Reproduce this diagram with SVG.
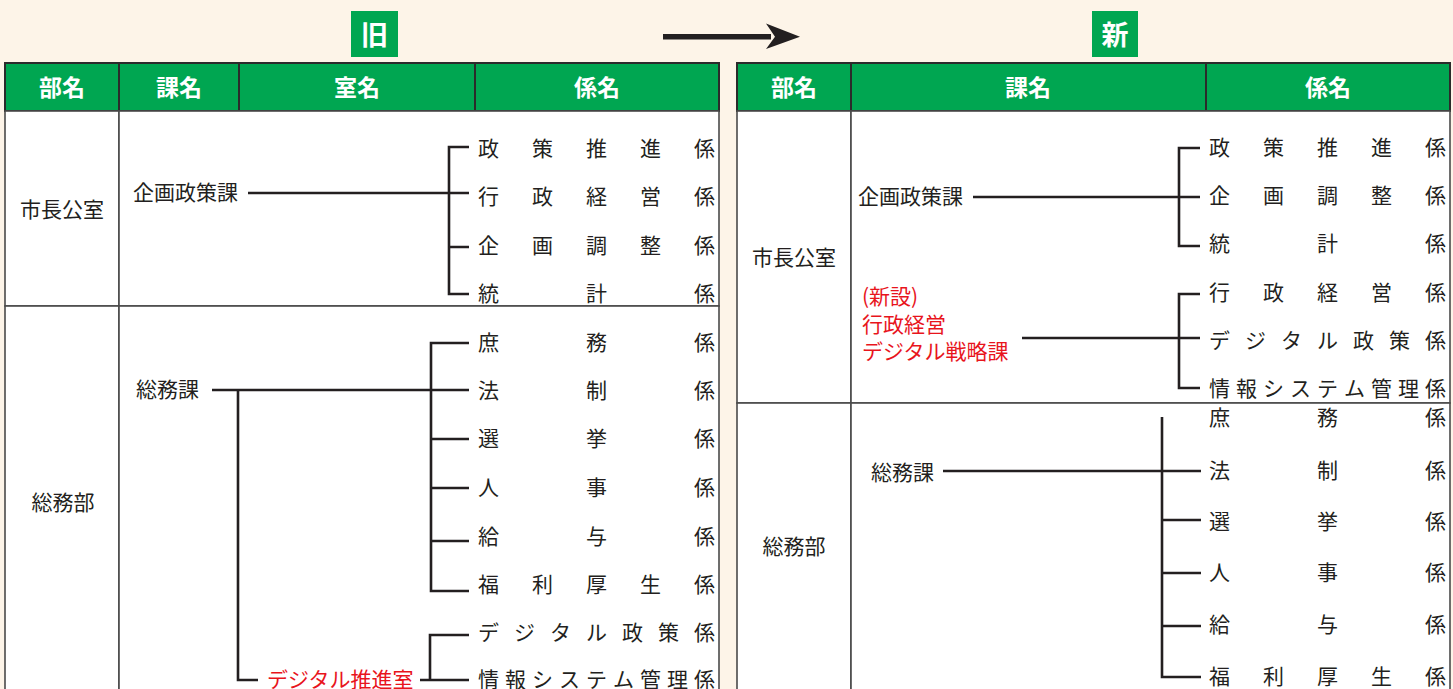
<svg xmlns="http://www.w3.org/2000/svg" width="1453" height="689" viewBox="0 0 1453 689">
<style>
.bg{fill:#fdf4e8}
.hd{fill:#00a651;stroke:#2b2b2b;stroke-width:2}
.cell{fill:#ffffff;stroke:#4a4a4a;stroke-width:1.6}
text{font-family:"Noto Sans CJK JP","Noto Sans CJK SC",sans-serif;dominant-baseline:central}
.h{fill:#ffffff;font-size:23px;font-weight:700;text-anchor:middle}
.tag{fill:#ffffff;font-size:27px;font-weight:700;text-anchor:middle}
.t{fill:#231f20;font-size:21px}
.m{text-anchor:middle}
.red{fill:#e8141c;font-size:21px}
.ln{stroke:#231f20;stroke-width:2.6;fill:none}
</style>
<rect class="bg" x="0" y="0" width="1453" height="689"/>

<g id="title-old">
<rect x="351" y="11" width="47" height="46" fill="#00a651"/>
<text class="tag" x="374.5" y="33">旧</text>
</g>
<g id="title-new">
<rect x="1092" y="11" width="46" height="46" fill="#00a651"/>
<text class="tag" x="1115" y="33">新</text>
</g>
<g id="arrow">
<rect x="663" y="34" width="108" height="5.5" fill="#231f20"/>
<polygon points="800,36.8 766,23.5 775,36.8 766,49" fill="#231f20"/>
</g>

<!-- Old table -->
<g id="old-header">
<rect class="hd" x="5" y="63" width="114" height="48"/>
<rect class="hd" x="119" y="63" width="120" height="48"/>
<rect class="hd" x="239" y="63" width="236" height="48"/>
<rect class="hd" x="475" y="63" width="244" height="48"/>
<text class="h" x="62" y="86">部名</text>
<text class="h" x="179" y="86">課名</text>
<text class="h" x="357" y="86">室名</text>
<text class="h" x="597" y="86">係名</text>
</g>
<g id="old-cells">
<rect class="cell" x="5" y="111" width="114" height="195"/>
<rect class="cell" x="119" y="111" width="600" height="195"/>
<rect class="cell" x="5" y="306" width="114" height="400"/>
<rect class="cell" x="119" y="306" width="600" height="400"/>
</g>

<g id="old-shichokoshitsu">
<text class="t m" x="62" y="208">市長公室</text>
<text class="t" x="133" y="191">企画政策課</text>
<text class="t" x="478 532 586 640 694" y="147">政策推進係</text>
<text class="t" x="478 532 586 640 694" y="195">行政経営係</text>
<text class="t" x="478 532 586 640 694" y="244">企画調整係</text>
<text class="t" x="478 586 694" y="292">統計係</text>
</g>
<g id="old-somubu">
<text class="t m" x="63" y="501">総務部</text>
<text class="t" x="136" y="388">総務課</text>
<text class="t" x="478 586 694" y="341">庶務係</text>
<text class="t" x="478 586 694" y="389">法制係</text>
<text class="t" x="478 586 694" y="437">選挙係</text>
<text class="t" x="478 586 694" y="486">人事係</text>
<text class="t" x="478 586 694" y="535">給与係</text>
<text class="t" x="478 532 586 640 694" y="583">福利厚生係</text>
<text class="red" x="267" y="678">デジタル推進室</text>
<text class="t" x="478 514 550 586 622 658 694" y="631">デジタル政策係</text>
<text class="t" x="478 505 532 559 586 613 640 667 694" y="678">情報システム管理係</text>
</g>

<!-- New table -->
<g id="new-header">
<rect class="hd" x="737" y="63" width="114" height="48"/>
<rect class="hd" x="851" y="63" width="355" height="48"/>
<rect class="hd" x="1206" y="63" width="244" height="48"/>
<text class="h" x="794" y="86">部名</text>
<text class="h" x="1028" y="86">課名</text>
<text class="h" x="1328" y="86">係名</text>
</g>
<g id="new-cells">
<rect class="cell" x="737" y="111" width="114" height="292"/>
<rect class="cell" x="851" y="111" width="599" height="292"/>
<rect class="cell" x="737" y="403" width="114" height="300"/>
<rect class="cell" x="851" y="403" width="599" height="300"/>
</g>
<g id="new-shichokoshitsu">
<text class="t m" x="794" y="256">市長公室</text>
<text class="t" x="858" y="195">企画政策課</text>
<text class="t" x="1209 1263 1317 1371 1425" y="146">政策推進係</text>
<text class="t" x="1209 1263 1317 1371 1425" y="194">企画調整係</text>
<text class="t" x="1209 1317 1425" y="242">統計係</text>
<text class="red" x="862" y="295">(新設)</text>
<text class="red" x="862" y="323">行政経営</text>
<text class="red" x="862" y="350">デジタル戦略課</text>
<text class="t" x="1209 1263 1317 1371 1425" y="291">行政経営係</text>
<text class="t" x="1209 1245 1281 1317 1353 1389 1425" y="339">デジタル政策係</text>
<text class="t" x="1209 1236 1263 1290 1317 1344 1371 1398 1425" y="387">情報システム管理係</text>
</g>
<g id="new-somubu">
<text class="t m" x="794" y="545">総務部</text>
<text class="t" x="871" y="471">総務課</text>
<text class="t" x="1209 1317 1425" y="416">庶務係</text>
<text class="t" x="1209 1317 1425" y="469">法制係</text>
<text class="t" x="1209 1317 1425" y="520">選挙係</text>
<text class="t" x="1209 1317 1425" y="571">人事係</text>
<text class="t" x="1209 1317 1425" y="623">給与係</text>
<text class="t" x="1209 1263 1317 1371 1425" y="675">福利厚生係</text>
</g>

<g id="connectors">
<path class="ln" d="M248 193H469M469 147H449V294H469M449 247H469"/>
<path class="ln" d="M212 390H469M469 343H431V591H469M431 439H469M431 488H469M431 541H469"/>
<path class="ln" d="M238 390V680H258M420 680H469M469 635H430V680"/>
<path class="ln" d="M973 197H1200M1200 148H1179V246H1200"/>
<path class="ln" d="M1022 338H1200M1200 294H1179V388H1200"/>
<path class="ln" d="M943 471H1201M1162 417V677H1201M1162 520H1201M1162 573H1201M1162 626H1201"/>
</g>
</svg>
